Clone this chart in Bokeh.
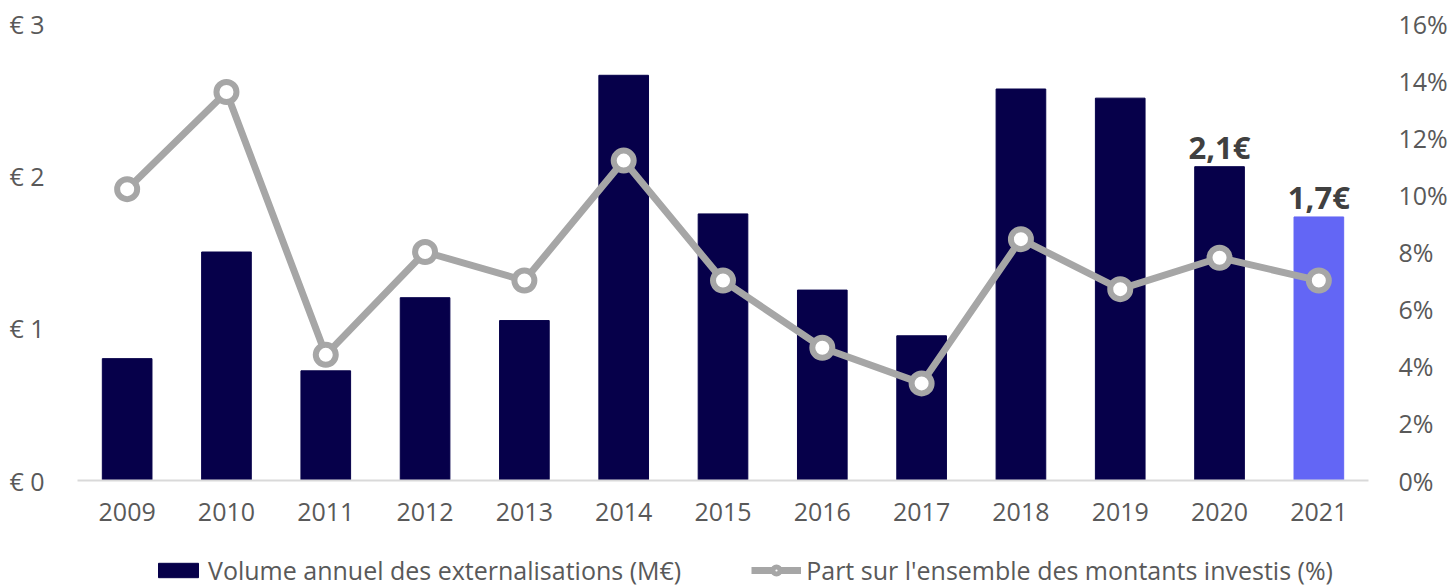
from bokeh.plotting import figure
from bokeh.layouts import column
from bokeh.models import (ColumnDataSource, FactorRange, Range1d, LinearAxis, FixedTicker,
                          PrintfTickFormatter, Legend, LegendItem)
from bokeh.core.properties import value
from bokeh.embed import file_html
from bokeh.resources import INLINE

years = ["2009", "2010", "2011", "2012", "2013", "2014", "2015", "2016", "2017", "2018", "2019", "2020", "2021"]
volume = [0.80, 1.50, 0.72, 1.20, 1.05, 2.66, 1.75, 1.25, 0.95, 2.57, 2.51, 2.06, 1.73]
part = [10.2, 13.6, 4.4, 8.0, 7.0, 11.2, 7.0, 4.65, 3.4, 8.45, 6.7, 7.8, 7.0]
label_years = ["2020", "2021"]
left_ticks = [0, 1, 2, 3]
right_ticks = [0, 2, 4, 6, 8, 10, 12, 14, 16]
legend_labels = ["Volume annuel des externalisations (M€)",
                 "Part sur l'ensemble des montants investis (%)"]

DARK = "#06004a"
LIGHT = "#6366f5"
GREY = "#a6a6a6"
TXT = "#595959"
FONT = "Open Sans"
FS = "25px"

bar_colors = [LIGHT if y == "2021" else DARK for y in years]
src = ColumnDataSource(dict(x=years, top=volume, color=bar_colors, part=part))

lab_vals = [volume[years.index(y)] for y in label_years]
lab_src = ColumnDataSource(dict(x=label_years, y=lab_vals,
                                t=[("%.1f" % v).replace(".", ",") + "€" for v in lab_vals]))

p = figure(x_range=FactorRange(*years), y_range=Range1d(0, 3),
           width=1450, height=530, output_backend="svg", toolbar_location=None,
           min_border_left=77, min_border_right=78, min_border_top=23, min_border_bottom=50)
p.extra_y_ranges = {"pct": Range1d(0, 16)}
p.outline_line_color = None
p.background_fill_color = "white"
p.border_fill_color = "white"
p.xgrid.visible = False
p.ygrid.visible = False

p.vbar(x="x", top="top", width=0.5, color="color", source=src)
p.line(x="x", y="part", line_color=GREY, line_width=7, y_range_name="pct", source=src)
p.scatter(x="x", y="part", size=20, fill_color="white", line_color=GREY, line_width=6,
          y_range_name="pct", source=src)

p.text(x="x", y="y", text="t", source=lab_src, text_align="center", text_baseline="alphabetic",
       y_offset=-20, text_font=value(FONT), text_font_style="bold", text_font_size="31px",
       text_color="#404040")

# left axis
ya = p.yaxis[0]
ya.ticker = FixedTicker(ticks=left_ticks)
ya.formatter = PrintfTickFormatter(format="€ %d")
ya.axis_line_color = None
ya.major_tick_line_color = None
ya.minor_tick_line_color = None
ya.major_label_text_font = FONT
ya.major_label_text_font_size = FS
ya.major_label_text_color = TXT
ya.major_label_standoff = 27

ra = LinearAxis(y_range_name="pct", ticker=FixedTicker(ticks=right_ticks),
                formatter=PrintfTickFormatter(format="%d%%"))
ra.axis_line_color = None
ra.major_tick_line_color = None
ra.minor_tick_line_color = None
ra.major_label_text_font = FONT
ra.major_label_text_font_size = FS
ra.major_label_text_color = TXT
ra.major_label_standoff = 24
p.add_layout(ra, "right")

xa = p.xaxis[0]
xa.axis_line_color = "#d9d9d9"
xa.axis_line_width = 2
xa.major_tick_line_color = None
xa.minor_tick_line_color = None
xa.major_label_text_font = FONT
xa.major_label_text_font_size = FS
xa.major_label_text_color = TXT
xa.major_label_standoff = 16

# legend strip (same series, drawn outside its visible range; only the legend shows)
lg = figure(x_range=FactorRange(*years), y_range=Range1d(1000, 1001), width=1450, height=57,
            output_backend="svg", toolbar_location=None, x_axis_type=None, y_axis_type=None,
            min_border_left=0, min_border_right=0, min_border_top=0, min_border_bottom=0)
lg.grid.visible = False
lg.outline_line_color = None
r_bar = lg.vbar(x="x", top="top", width=0.5, color=DARK, source=src)
r_line = lg.line(x="x", y="part", line_color=GREY, line_width=7, source=src)
r_pts = lg.scatter(x="x", y="part", size=16, fill_color="white", line_color=GREY, line_width=5,
                   source=src)

legend = Legend(items=[LegendItem(label=legend_labels[0], renderers=[r_bar]),
                       LegendItem(label=legend_labels[1], renderers=[r_line, r_pts])],
                orientation="horizontal", location=(76, 0),
                label_text_font=FONT, label_text_font_size=FS, label_text_color=TXT,
                glyph_width=50, glyph_height=18, label_standoff=5, spacing=70,
                border_line_color=None, background_fill_alpha=0, padding=0, margin=0)
lg.add_layout(legend)

layout = column(p, lg, spacing=0)
open("out.html", "w").write(file_html(layout, INLINE))
